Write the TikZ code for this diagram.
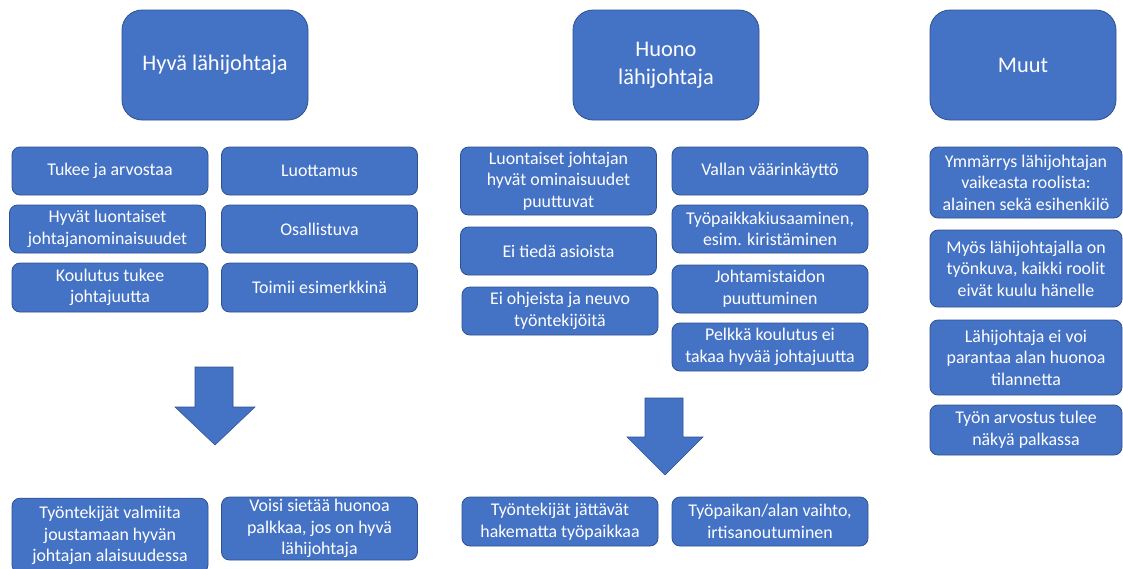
\documentclass[tikz,border=0pt]{standalone}
\usepackage{fontspec}
\setmainfont{Carlito}
\definecolor{boxblue}{HTML}{4472C4}
\definecolor{boxline}{HTML}{2F528F}
\begin{document}
\begin{tikzpicture}[x=0.75pt,y=-0.75pt,
  base/.style={draw=boxline, line width=0.6pt, fill=boxblue, text=white, align=center, inner sep=0pt, outer sep=0pt},
  topbox/.style={base, rounded corners=15pt, minimum width=139.5pt, minimum height=82.5pt, font=\fontsize{16.8pt}{20.8pt}\selectfont},
  sbox/.style={base, rounded corners=6pt, minimum width=147pt, font=\fontsize{13.4pt}{16.2pt}\selectfont},
  rbox/.style={base, rounded corners=6pt, minimum width=144pt, font=\fontsize{13.4pt}{16.2pt}\selectfont},
  blockarrow/.style={fill=boxblue, draw=boxline, line width=0.4pt}
]
\useasboundingbox[fill=white] (0,0) rectangle (1123,568);

% top headers
\node[topbox] (hyva) at (215,65) {Hyvä lähijohtaja};
\node[topbox] (huono) at (666,65) {Huono\\lähijohtaja};
\node[topbox] (muut) at (1023,65) {Muut};

% left column
\node[sbox, minimum height=36pt] (tukee) at (110,171) {Tukee ja arvostaa};
\node[sbox, minimum height=36pt] (hyvat) at (107.5,229) {Hyvät luontaiset\\johtajanominaisuudet};
\node[sbox, minimum height=36.75pt] (koulutus) at (110,287.5) {Koulutus tukee\\johtajuutta};
\node[sbox, minimum height=36pt] (luottamus) at (319.5,171) {Luottamus};
\node[sbox, minimum height=36pt] (osallistuva) at (319.5,229) {Osallistuva};
\node[sbox, minimum height=36.75pt] (toimii) at (319.5,287.5) {Toimii esimerkkinä};

% middle column
\node[sbox, minimum height=51pt] (luontaiset) at (558.5,181) {Luontaiset johtajan\\hyvät ominaisuudet\\puuttuvat};
\node[sbox, minimum height=36pt] (eitieda) at (558.5,251) {Ei tiedä asioista};
\node[sbox, minimum height=36pt] (eiohjeista) at (560,311) {Ei ohjeista ja neuvo\\työntekijöitä};
\node[sbox, minimum height=36pt] (vallan) at (770,171) {Vallan väärinkäyttö};
\node[sbox, minimum height=36pt] (kiusaaminen) at (770,229) {Työpaikkakiusaaminen,\\esim. kiristäminen};
\node[sbox, minimum height=36pt] (johtamis) at (770,289) {Johtamistaidon\\puuttuminen};
\node[sbox, minimum height=36pt] (pelkka) at (770,347) {Pelkkä koulutus ei\\takaa hyvää johtajuutta};

% right column
\node[rbox, minimum height=53.25pt] (ymmarrys) at (1026,182.5) {Ymmärrys lähijohtajan\\vaikeasta roolista:\\alainen sekä esihenkilö};
\node[rbox, minimum height=57.75pt] (myos) at (1026,268.5) {Myös lähijohtajalla on\\työnkuva, kaikki roolit\\eivät kuulu hänelle};
\node[rbox, minimum height=56.25pt] (eivoi) at (1026,357.5) {Lähijohtaja ei voi\\parantaa alan huonoa\\tilannetta};
\node[rbox, minimum height=37.5pt] (arvostus) at (1026,430) {Työn arvostus tulee\\näkyä palkassa};

% bottom results
\node[sbox, minimum height=56pt] (valmiita) at (110,535.5) {Työntekijät valmiita\\joustamaan hyvän\\johtajan alaisuudessa};
\node[sbox, minimum height=47.25pt] (voisi) at (319.5,528.5) {Voisi sietää huonoa\\palkkaa, jos on hyvä\\lähijohtaja};
\node[sbox, minimum height=36.75pt] (jattavat) at (560,521.5) {Työntekijät jättävät\\hakematta työpaikkaa};
\node[sbox, minimum height=36.75pt] (vaihto) at (770,521.5) {Työpaikan/alan vaihto,\\irtisanoutuminen};

% block arrows
\draw[blockarrow] (195,367) -- (233,367) -- (233,407) -- (255,407) -- (215,445) -- (175,407) -- (195,407) -- cycle;
\draw[blockarrow] (645,398) -- (683,398) -- (683,437) -- (703,437) -- (665,475) -- (627,437) -- (645,437) -- cycle;
\end{tikzpicture}
\end{document}
